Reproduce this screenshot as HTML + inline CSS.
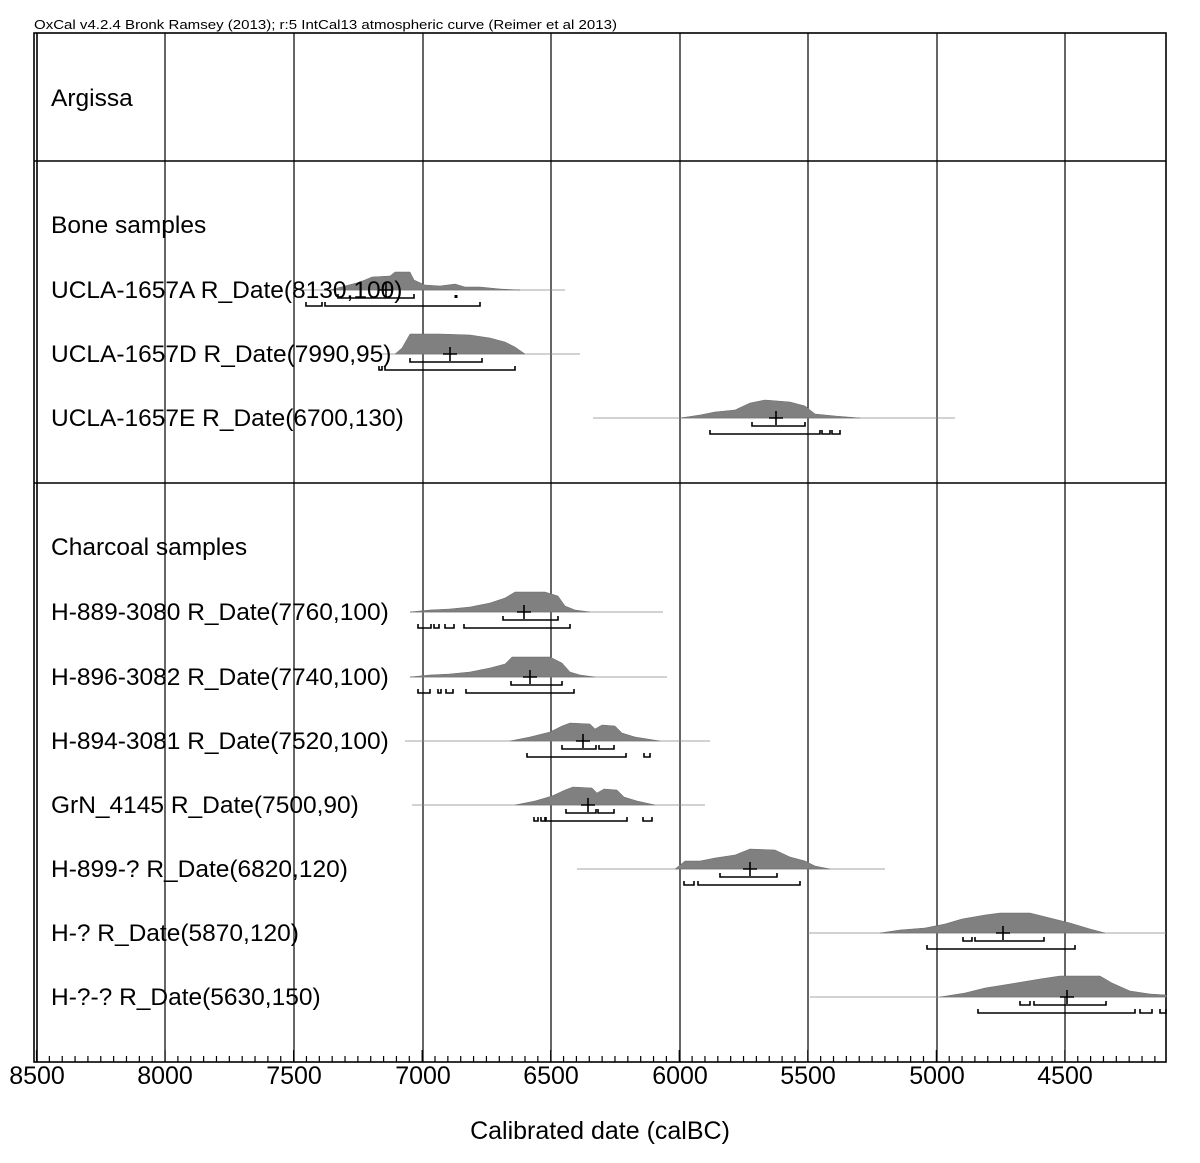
<!DOCTYPE html><html><head><style>body{margin:0;background:#fff}svg{display:block}text{font-family:"Liberation Sans",Arial,sans-serif}</style></head><body>
<svg id="s" width="1200" height="1163" viewBox="0 0 1200 1163" xmlns="http://www.w3.org/2000/svg">
<text x="34" y="29" font-size="13" textLength="583" lengthAdjust="spacingAndGlyphs">OxCal v4.2.4 Bronk Ramsey (2013); r:5 IntCal13 atmospheric curve (Reimer et al 2013)</text>
<g stroke="#000" stroke-width="1.2" fill="none">
<line x1="165" y1="33" x2="165" y2="1062"/><line x1="294" y1="33" x2="294" y2="1062"/><line x1="423" y1="33" x2="423" y2="1062"/><line x1="551" y1="33" x2="551" y2="1062"/><line x1="680" y1="33" x2="680" y2="1062"/><line x1="808" y1="33" x2="808" y2="1062"/><line x1="937" y1="33" x2="937" y2="1062"/><line x1="1065" y1="33" x2="1065" y2="1062"/>
</g>
<g stroke="#000" stroke-width="1.6" fill="none">
<rect x="34" y="33" width="1132" height="1029"/><line x1="37" y1="33" x2="37" y2="1062"/>
<line x1="34" y1="161" x2="1166" y2="161"/><line x1="34" y1="483" x2="1166" y2="483"/>
</g>
<g id="ticks" stroke="#000" stroke-width="1.2"></g>
<g font-size="25" text-anchor="middle">
<text x="37" y="1084">8500</text><text x="165" y="1084">8000</text><text x="294" y="1084">7500</text><text x="423" y="1084">7000</text><text x="551" y="1084">6500</text><text x="680" y="1084">6000</text><text x="808" y="1084">5500</text><text x="937" y="1084">5000</text><text x="1065" y="1084">4500</text>
<text x="600" y="1139">Calibrated date (calBC)</text></g>
<g id="rows"></g>
<g font-size="24.5">
<text x="51" y="106">Argissa</text><text x="51" y="233">Bone samples</text>
<text x="51" y="298">UCLA-1657A R_Date(8130,100)</text><text x="51" y="362">UCLA-1657D R_Date(7990,95)</text><text x="51" y="426">UCLA-1657E R_Date(6700,130)</text>
<text x="51" y="555">Charcoal samples</text>
<text x="51" y="620">H-889-3080 R_Date(7760,100)</text><text x="51" y="685">H-896-3082 R_Date(7740,100)</text><text x="51" y="749">H-894-3081 R_Date(7520,100)</text><text x="51" y="813">GrN_4145 R_Date(7500,90)</text><text x="51" y="877">H-899-? R_Date(6820,120)</text><text x="51" y="941">H-? R_Date(5870,120)</text><text x="51" y="1005">H-?-? R_Date(5630,150)</text>
</g>
</svg>
<script>
var NS="http://www.w3.org/2000/svg",t=document.getElementById("ticks"),r=document.getElementById("rows");
for(var y=8500;y>=4110;y-=50){var x=36.5+(8500-y)*0.2571;var l=document.createElementNS(NS,"line");l.setAttribute("x1",x);l.setAttribute("x2",x);l.setAttribute("y1",1062);l.setAttribute("y2",y%500==0?1050:1056);t.appendChild(l);}
function add(tag,a){var e=document.createElementNS(NS,tag);for(var k in a)e.setAttribute(k,a[k]);r.appendChild(e);return e;}
var rows=[
[290,300,565,[[330,0],[345,4],[360,8],[372,13],[390,14],[395,18],[410,18],[414,10],[425,5],[440,4],[455,6],[465,3],[480,3],[500,1],[520,0]],386,[[338,414]],[[306,322],[325,480]],456],
[354,380,580,[[395,0],[402,6],[410,20],[440,20],[470,19],[490,16],[505,12],[515,7],[525,0]],450,[[410,482]],[[379,382],[385,515]]],
[418,593,955,[[680,0],[700,3],[715,6],[735,8],[750,15],[765,18],[790,16],[805,12],[815,4],[835,2],[860,0]],776,[[752,805]],[[710,820],[822,830],[832,840]]],
[612,410,663,[[410,0],[430,2],[450,3],[470,5],[490,9],[505,14],[515,20],[545,20],[558,16],[565,6],[575,2],[590,0]],524,[[503,558]],[[418,431],[434,439],[445,454],[464,570]]],
[677,410,667,[[410,0],[430,2],[450,3],[470,5],[490,9],[505,13],[512,20],[550,20],[562,14],[570,5],[580,2],[595,0]],530,[[511,562]],[[418,430],[438,441],[446,453],[466,574]]],
[741,405,710,[[510,0],[530,4],[550,9],[562,15],[570,18],[590,17],[595,12],[602,16],[615,15],[622,8],[635,4],[660,0]],583,[[562,596],[599,614]],[[527,626],[644,650]]],
[805,412,705,[[515,0],[535,4],[552,9],[565,15],[573,18],[592,17],[597,12],[604,16],[617,15],[624,8],[637,4],[655,0]],588,[[566,596],[598,614]],[[534,538],[541,545],[546,627],[643,652]]],
[869,577,885,[[675,0],[685,8],[700,8],[715,11],[735,14],[750,20],[775,19],[790,12],[805,8],[815,3],[830,0]],750,[[720,777]],[[684,694],[698,800]]],
[933,808,1166,[[880,0],[900,3],[925,5],[945,9],[962,14],[985,18],[1000,20],[1030,20],[1050,15],[1070,10],[1090,4],[1105,0]],1003,[[963,972],[975,1044]],[[927,1075]]],
[997,810,1166,[[940,0],[965,4],[985,9],[1010,13],[1040,18],[1060,21],[1100,21],[1112,14],[1130,6],[1150,3],[1166,2]],1067,[[1020,1030],[1034,1106]],[[978,1135],[1140,1152],[1160,1166]]]];
rows.forEach(function(d){var y=d[0];
add("line",{x1:d[1],x2:d[2],y1:y,y2:y,stroke:"#888","stroke-width":0.8});
var p=d[3].map(function(q){return q[0]+","+(y-q[1])}).join(" ")+" "+d[3][d[3].length-1][0]+","+y+" "+d[3][0][0]+","+y;
add("polygon",{points:p,fill:"#808080",stroke:"#6a6a6a","stroke-width":0.5});
function br(a,yy){a.forEach(function(s){add("path",{d:"M"+s[0]+","+(yy-4)+"V"+yy+"H"+s[1]+"V"+(yy-4),fill:"none",stroke:"#000","stroke-width":1.6});});}
br(d[5],y+8);br(d[6],y+16);
var c=d[4];add("path",{d:"M"+(c-7)+","+y+"H"+(c+7)+"M"+c+","+(y-7)+"V"+(y+7),stroke:"#000","stroke-width":1.6});
if(d[7])add("rect",{x:d[7]-1.5,y:y+5,width:3,height:3,fill:"#000"});
});
</script>
</body></html>
